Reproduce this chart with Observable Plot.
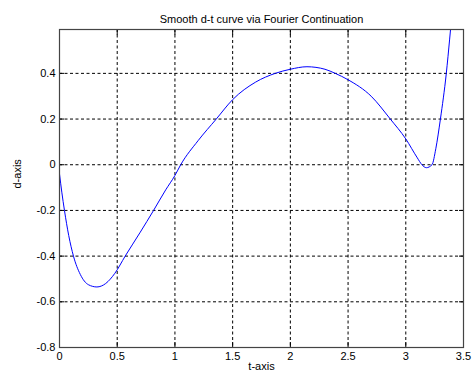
<!DOCTYPE html>
<html>
<head>
<meta charset="utf-8">
<script src="https://cdn.jsdelivr.net/npm/d3@7"></script>
<script src="https://cdn.jsdelivr.net/npm/@observablehq/plot@0.6"></script>
<style>
  html, body { margin: 0; padding: 0; background: white; }
</style>
</head>
<body>
<div id="chart"></div>
<script>
const titleText = "Smooth d-t curve via Fourier Continuation";
const xLabel = "t-axis";
const yLabel = "d-axis";

const tValues = [0, 0.02, 0.043, 0.08, 0.121, 0.18, 0.25, 0.324, 0.40, 0.48, 0.569, 0.70, 0.815, 0.92, 1.0, 1.05, 1.2, 1.358, 1.5, 1.7, 1.869, 2.0, 2.144, 2.3, 2.389, 2.5, 2.7, 2.866, 3.0, 3.1, 3.14, 3.178, 3.227, 3.26, 3.30, 3.351, 3.38, 3.40];
const dValues = [-0.04, -0.12, -0.2, -0.31, -0.4, -0.48, -0.525, -0.535, -0.52, -0.475, -0.4, -0.295, -0.2, -0.11, -0.047, 0, 0.105, 0.2, 0.285, 0.362, 0.4, 0.418, 0.429, 0.418, 0.4, 0.372, 0.30, 0.2, 0.113, 0.03, 0.0, -0.013, 0, 0.07, 0.2, 0.4, 0.55, 0.66];

const xTicks = [0, 0.5, 1, 1.5, 2, 2.5, 3, 3.5];
const yTicks = [-0.8, -0.6, -0.4, -0.2, 0, 0.2, 0.4];
const xDomain = [0, 3.5];
const yDomain = [-0.8, 0.592];

const data = tValues.map((t, i) => ({t, d: dValues[i]}));
const fmt = d => String(+(+d).toFixed(1));

const chart = Plot.plot({
  width: 473,
  height: 383,
  marginLeft: 59,
  marginRight: 10,
  marginTop: 29,
  marginBottom: 36,
  style: {fontFamily: "'Liberation Sans', Arial, sans-serif", fontSize: "11px", background: "white", color: "black"},
  x: {domain: xDomain, label: null},
  y: {domain: yDomain, label: null},
  marks: [
    Plot.ruleX(xTicks.filter(d => d > xDomain[0] && d < xDomain[1]), {stroke: "black", strokeDasharray: "3,2.5", strokeWidth: 1}),
    Plot.ruleY(yTicks.filter(d => d > yDomain[0] && d < yDomain[1]), {stroke: "black", strokeDasharray: "3,2.5", strokeWidth: 1}),
    Plot.line(data, {x: "t", y: "d", stroke: "#0000ff", strokeWidth: 1, curve: "monotone-x", clip: true}),
    Plot.axisX({ticks: xTicks, tickSize: 0, tickPadding: 5, tickFormat: fmt, label: null, fontSize: 11}),
    Plot.axisY({ticks: yTicks, tickSize: 0, tickPadding: 4, tickFormat: fmt, label: null, fontSize: 11}),
    Plot.axisX({ticks: xTicks, anchor: "bottom", tickSize: -5, tickFormat: () => "", label: null}),
    Plot.axisX({ticks: xTicks, anchor: "top", tickSize: -5, tickFormat: () => "", label: null}),
    Plot.axisY({ticks: yTicks, anchor: "left", tickSize: -5, tickFormat: () => "", label: null}),
    Plot.axisY({ticks: yTicks, anchor: "right", tickSize: -5, tickFormat: () => "", label: null}),
    Plot.frame({stroke: "#444", strokeWidth: 1.2}),
    Plot.text([titleText], {frameAnchor: "top", dy: -14, fontSize: 11, fill: "black"}),
    Plot.text([xLabel], {frameAnchor: "bottom", dy: 22, fontSize: 11, fill: "black"}),
    Plot.text([yLabel], {frameAnchor: "left", dx: -42, rotate: -90, fontSize: 11, fill: "black"})
  ]
});
document.getElementById("chart").appendChild(chart);
</script>
</body>
</html>
